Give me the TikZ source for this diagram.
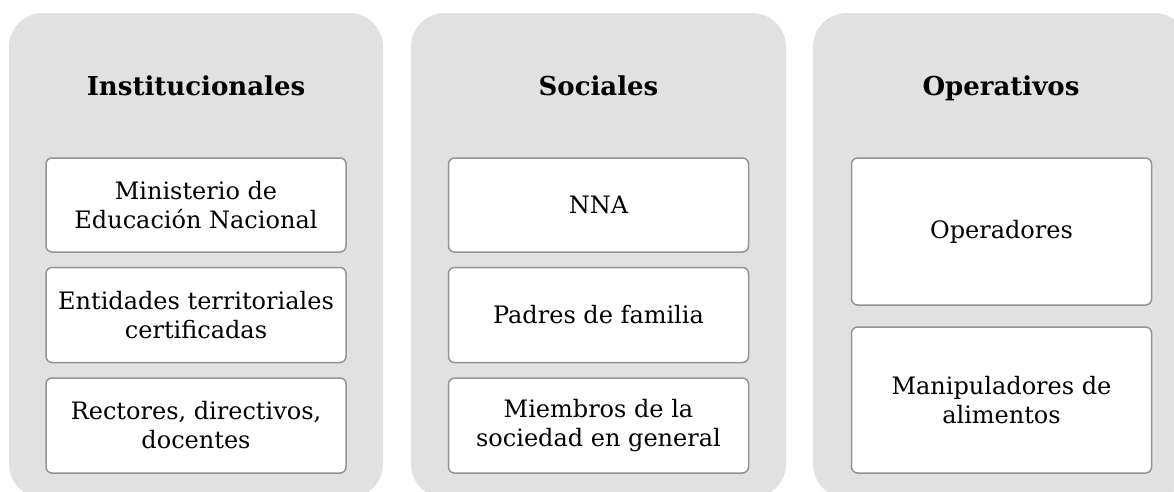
\documentclass[tikz,border=0pt]{standalone}
\usepackage{fontspec}
\setmainfont{DejaVu Serif}
\definecolor{panelfill}{HTML}{E1E1E1}
\definecolor{boxline}{HTML}{949494}
\begin{document}
\begin{tikzpicture}[x=1pt,y=-1pt,
  panel/.style={fill=panelfill,draw=none,rounded corners=34pt},
  item/.style={draw=boxline,line width=1.5pt,fill=white,rounded corners=6pt,
    minimum width=300pt,align=center,inner sep=0pt,
    font=\fontsize{24}{29}\selectfont},
  title/.style={anchor=base,font=\fontsize{26}{30}\selectfont\bfseries}]
\useasboundingbox (0,0) rectangle (1174,491);
\clip (0,0) rectangle (1174,491);
\fill[white] (0,0) rectangle (1174,491);
% panels
\path[panel] (9,13) rectangle (383,498);
\path[panel] (411,13) rectangle (786,498);
\path[panel] (813,13) rectangle (1188,498);
% titles
\node[title] (t1) at (196,95) {Institucionales};
\node[title] (t2) at (598.5,95) {Sociales};
\node[title] (t3) at (1001,95) {Operativos};
% panel 1
\node[item,minimum height=94pt] (a1) at (196,205) {Ministerio de\\Educación Nacional};
\node[item,minimum height=95pt] (a2) at (196,315) {Entidades territoriales\\certificadas};
\node[item,minimum height=95pt] (a3) at (196,425.5) {Rectores, directivos,\\docentes};
% panel 2
\node[item,minimum height=94pt] (b1) at (598.5,205) {NNA};
\node[item,minimum height=95pt] (b2) at (598.5,315) {Padres de familia};
\node[item,minimum height=95pt] (b3) at (598.5,425.5) {Miembros de la\\sociedad en general};
% panel 3
\node[item,minimum height=147pt] (c1) at (1001.5,231.5) {Operadores};
\node[item,minimum height=146pt] (c2) at (1001.5,400) {Manipuladores de\\alimentos};
\end{tikzpicture}
\end{document}
